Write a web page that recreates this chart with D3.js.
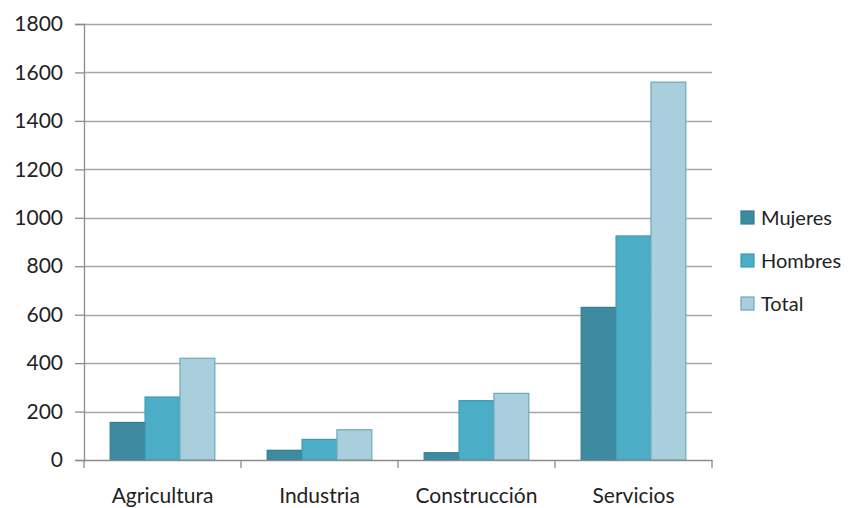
<!DOCTYPE html>
<html>
<head>
<meta charset="utf-8">
<script src="https://cdn.jsdelivr.net/npm/d3@7"></script>
<style>
  html, body { margin: 0; padding: 0; background: #fff; }
  svg { display: block; }
  text { font-family: Lato, "Open Sans", sans-serif; fill: #222; }
</style>
</head>
<body>
<svg id="chart" width="850" height="508"></svg>
<script>
const categories = ["Agricultura", "Industria", "Construcción", "Servicios"];
const seriesNames = ["Mujeres", "Hombres", "Total"];
const mujeres = [155, 40, 30, 630];
const hombres = [260, 85, 245, 925];
const total = [420, 125, 275, 1560];
const yTicks = [0, 200, 400, 600, 800, 1000, 1200, 1400, 1600, 1800];

const seriesValues = [mujeres, hombres, total];
const fills = ["#3C8BA1", "#4BADC6", "#A9CFDD"];
const strokes = ["#337D91", "#3E9AB3", "#6AA9BD"];

const svg = d3.select("#chart");
const plotLeft = 84, plotRight = 712, plotTop = 24, plotBottom = 460;

const x0 = d3.scaleBand().domain(categories).range([plotLeft, plotRight]).paddingInner(0).paddingOuter(0);
const x1 = d3.scaleBand().domain(seriesNames).range([0, x0.bandwidth()]).paddingInner(0).paddingOuter(0.75);
const y = d3.scaleLinear().domain([0, 1800]).range([plotBottom, plotTop]);

// gridlines
svg.append("g")
  .selectAll("line")
  .data(yTicks.filter(d => d > 0))
  .join("line")
  .attr("x1", plotLeft).attr("x2", plotRight)
  .attr("y1", d => Math.round(y(d)) + 0.5).attr("y2", d => Math.round(y(d)) + 0.5)
  .attr("stroke", "#a6a6a6").attr("stroke-width", 1.3);

// bars
const groups = svg.append("g")
  .selectAll("g")
  .data(categories)
  .join("g")
  .attr("transform", d => `translate(${x0(d)},0)`);

groups.selectAll("rect")
  .data((c, i) => seriesNames.map((s, j) => ({ s, j, v: seriesValues[j][i] })))
  .join("rect")
  .attr("x", d => x1(d.s))
  .attr("y", d => y(d.v))
  .attr("width", x1.bandwidth())
  .attr("height", d => y(0) - y(d.v))
  .attr("fill", d => fills[d.j])
  .attr("stroke", d => strokes[d.j])
  .attr("stroke-width", 1.2);

// y axis
const yAxis = d3.axisLeft(y).tickValues(yTicks).tickSize(9).tickPadding(12).tickFormat(d3.format("d"));
const gy = svg.append("g").attr("transform", `translate(${plotLeft},0)`).call(yAxis);
gy.select(".domain").attr("stroke", "#8c8c8c").attr("stroke-width", 1.3);
gy.selectAll(".tick line").attr("stroke", "#8c8c8c").attr("stroke-width", 1.3);
gy.selectAll(".tick text").style("font-size", "21px").attr("fill", "#222").attr("font-family", "Lato, 'Open Sans', sans-serif");

// x axis
const xAxis = d3.axisBottom(x0).tickSize(0).tickFormat("");
const gx = svg.append("g").attr("transform", `translate(0,${plotBottom})`).call(xAxis);
gx.select(".domain").attr("stroke", "#8c8c8c").attr("stroke-width", 1.3);
gx.selectAll(".tick").remove();
const boundaries = categories.map(c => x0(c)).concat([x0(categories[categories.length - 1]) + x0.bandwidth()]);
gx.selectAll("line.sep")
  .data(boundaries)
  .join("line")
  .attr("class", "sep")
  .attr("x1", d => d).attr("x2", d => d)
  .attr("y1", 0).attr("y2", 8)
  .attr("stroke", "#8c8c8c").attr("stroke-width", 1.3);

svg.append("g")
  .selectAll("text")
  .data(categories)
  .join("text")
  .attr("x", d => x0(d) + x0.bandwidth() / 2)
  .attr("y", 503)
  .attr("text-anchor", "middle")
  .style("font-size", "21px")
  .text(d => d);

// legend
const legend = svg.append("g").attr("transform", "translate(741,0)");
const rowY = [218, 261, 304];
seriesNames.forEach((s, i) => {
  legend.append("rect")
    .attr("x", 0).attr("y", rowY[i] - 7)
    .attr("width", 13).attr("height", 13)
    .attr("fill", fills[i]).attr("stroke", strokes[i]).attr("stroke-width", 1.2);
  legend.append("text")
    .attr("x", 20).attr("y", rowY[i])
    .attr("dy", "0.36em")
    .style("font-size", "20px")
    .text(s);
});
</script>
</body>
</html>
